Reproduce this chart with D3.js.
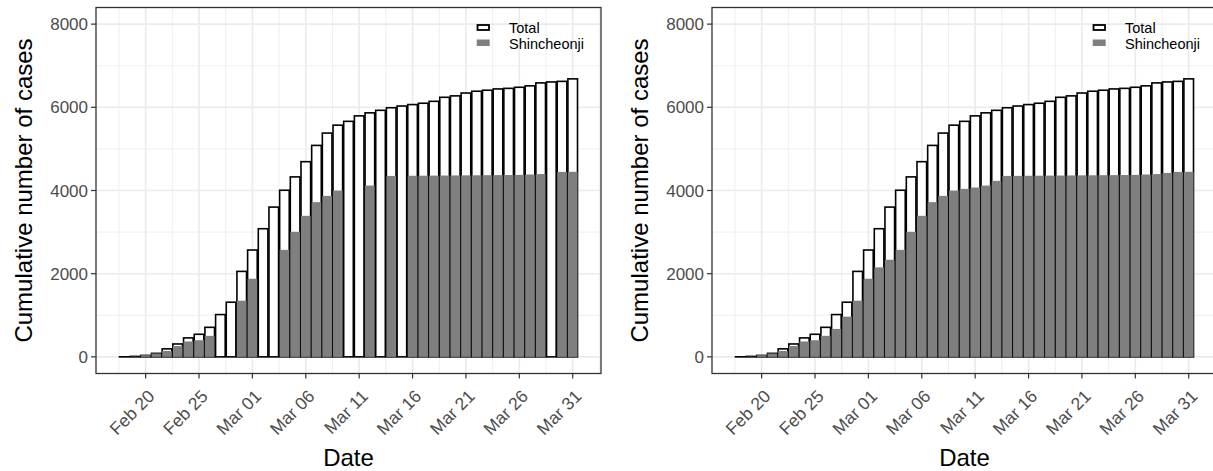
<!DOCTYPE html>
<html>
<head>
<meta charset="utf-8">
<script src="https://cdn.jsdelivr.net/npm/d3@7"></script>
<style>
  body { margin: 0; background: #fff; }
  svg { display: block; font-family: "Liberation Sans", Arial, sans-serif; }
</style>
</head>
<body>
<div id="chart"></div>
<script>
// dates of the bars (Feb 18 -> Mar 31, 2020)
const dates = [
  "2020-02-18","2020-02-19","2020-02-20","2020-02-21","2020-02-22","2020-02-23","2020-02-24",
  "2020-02-25","2020-02-26","2020-02-27","2020-02-28","2020-02-29","2020-03-01","2020-03-02",
  "2020-03-03","2020-03-04","2020-03-05","2020-03-06","2020-03-07","2020-03-08","2020-03-09",
  "2020-03-10","2020-03-11","2020-03-12","2020-03-13","2020-03-14","2020-03-15","2020-03-16",
  "2020-03-17","2020-03-18","2020-03-19","2020-03-20","2020-03-21","2020-03-22","2020-03-23",
  "2020-03-24","2020-03-25","2020-03-26","2020-03-27","2020-03-28","2020-03-29","2020-03-30",
  "2020-03-31"
];

const totalCases = [
  1, 11, 35, 84, 193, 310, 456, 543, 710, 1017, 1314, 2055, 2569, 3081,
  3601, 4006, 4327, 4693, 5084, 5381, 5571, 5663, 5794, 5867, 5928, 5990, 6031, 6066,
  6098, 6144, 6241, 6275, 6344, 6387, 6411, 6442, 6456, 6482, 6516, 6587, 6610, 6624,
  6684
];

// left panel: reported Shincheonji counts, null = not reported that day
const shincheonjiReported = [
  0, 5, 40, 80, 140, 260, 370, 400, 505, null, null, 1351, 1879, null,
  null, 2572, 3008, 3391, 3720, 3871, 3999, null, null, 4119, null, 4350, null, 4354,
  4356, 4358, 4360, 4362, 4364, 4366, 4368, 4370, 4372, 4375, 4385, 4395, null, 4447,
  4450
];

// right panel: gaps filled in
const shincheonjiFilled = [
  0, 5, 40, 80, 140, 260, 370, 400, 505, 672, 967, 1351, 1879, 2151,
  2335, 2572, 3008, 3391, 3720, 3871, 3999, 4039, 4071, 4119, 4231, 4350, 4352, 4354,
  4356, 4358, 4360, 4362, 4364, 4366, 4368, 4370, 4372, 4375, 4385, 4395, 4423, 4447,
  4450
];

const tickDates = ["2020-02-20","2020-02-25","2020-03-01","2020-03-06","2020-03-11",
                   "2020-03-16","2020-03-21","2020-03-26","2020-03-31"];
const tickLabels = ["Feb 20","Feb 25","Mar 01","Mar 06","Mar 11","Mar 16","Mar 21","Mar 26","Mar 31"];
const yTicks = [0, 2000, 4000, 6000, 8000];
const yMinor = [1000, 3000, 5000, 7000];
const seriesNames = ["Total", "Shincheonji"];

const W = 1213, H = 471;
const DAY = 864e5;
const parse = d3.utcParse("%Y-%m-%d");

const svg = d3.select("#chart").append("svg")
    .attr("width", W)
    .attr("height", H);

function drawPanel(offsetX, shinValues, id) {
    const left = 96 + offsetX, right = 601 + offsetX, top = 7.5, bottom = 373.5;

    const first = +parse(dates[0]) - DAY / 2, last = +parse(dates[dates.length - 1]) + DAY / 2;
    const pad = (last - first) * 0.05;
    const x = d3.scaleUtc().domain([first - pad, last + pad]).range([left, right]);
    const y = d3.scaleLinear().domain([-400, 8400]).range([bottom, top]);

    const rows = dates.map((d, i) => ({ date: parse(d), total: totalCases[i], shin: shinValues[i] }));

    svg.append("clipPath").attr("id", id)
        .append("rect").attr("x", left).attr("y", top).attr("width", right - left).attr("height", bottom - top);

    const g = svg.append("g").attr("clip-path", `url(#${id})`);

    g.append("rect").attr("x", left).attr("y", top).attr("width", right - left).attr("height", bottom - top)
        .attr("fill", "#fff");

    // minor grid
    const xMinor = [];
    for (let t = +parse(tickDates[0]) - 2.5 * DAY; t <= x.domain()[1]; t += 5 * DAY) xMinor.push(t);
    g.selectAll(".vminor").data(xMinor).enter().append("line")
        .attr("x1", d => x(d)).attr("x2", d => x(d)).attr("y1", top).attr("y2", bottom)
        .attr("stroke", "#ebebeb").attr("stroke-width", 0.8);
    g.selectAll(".hminor").data(yMinor).enter().append("line")
        .attr("x1", left).attr("x2", right).attr("y1", d => y(d)).attr("y2", d => y(d))
        .attr("stroke", "#ebebeb").attr("stroke-width", 0.8);

    // major grid
    g.selectAll(".vmajor").data(tickDates).enter().append("line")
        .attr("x1", d => x(parse(d))).attr("x2", d => x(parse(d))).attr("y1", top).attr("y2", bottom)
        .attr("stroke", "#ebebeb").attr("stroke-width", 1.6);
    g.selectAll(".hmajor").data(yTicks).enter().append("line")
        .attr("x1", left).attr("x2", right).attr("y1", d => y(d)).attr("y2", d => y(d))
        .attr("stroke", "#ebebeb").attr("stroke-width", 1.6);

    // bars
    const half = 0.45 * DAY;
    g.selectAll(".total").data(rows).enter().append("rect")
        .attr("x", d => x(+d.date - half))
        .attr("width", d => x(+d.date + half) - x(+d.date - half))
        .attr("y", d => y(d.total))
        .attr("height", d => y(0) - y(d.total))
        .attr("fill", "#fff").attr("stroke", "#000").attr("stroke-width", 1.6);

    g.selectAll(".shin").data(rows.filter(d => d.shin != null)).enter().append("rect")
        .attr("x", d => x(+d.date - half))
        .attr("width", d => x(+d.date + half) - x(+d.date - half))
        .attr("y", d => y(d.shin))
        .attr("height", d => y(0) - y(d.shin))
        .attr("fill", "#7f7f7f");

    // legend
    const lg = g.append("g");
    lg.append("rect").attr("x", left + 381.5).attr("y", 25).attr("width", 11.5).attr("height", 5)
        .attr("fill", "#fff").attr("stroke", "#000").attr("stroke-width", 1.8);
    lg.append("rect").attr("x", left + 380.7).attr("y", 39.5).attr("width", 13).attr("height", 6.5)
        .attr("fill", "#7f7f7f");
    lg.selectAll("text").data(seriesNames).enter().append("text")
        .attr("x", left + 413)
        .attr("y", (d, i) => 28 + i * 15.5)
        .attr("dy", "0.35em")
        .attr("font-size", 14.5)
        .attr("fill", "#000")
        .text(d => d);

    // panel border
    svg.append("rect").attr("x", left).attr("y", top).attr("width", right - left).attr("height", bottom - top)
        .attr("fill", "none").attr("stroke", "#333").attr("stroke-width", 1.3);

    // y axis
    const ya = svg.append("g");
    ya.selectAll("line").data(yTicks).enter().append("line")
        .attr("x1", left - 5).attr("x2", left).attr("y1", d => y(d)).attr("y2", d => y(d))
        .attr("stroke", "#333").attr("stroke-width", 1.2);
    ya.selectAll("text").data(yTicks).enter().append("text")
        .attr("x", left - 8).attr("y", d => y(d)).attr("dy", "0.36em")
        .attr("text-anchor", "end").attr("font-size", 17).attr("fill", "#4d4d4d")
        .text(d => d);

    // x axis
    const xa = svg.append("g");
    xa.selectAll("line").data(tickDates).enter().append("line")
        .attr("x1", d => x(parse(d))).attr("x2", d => x(parse(d))).attr("y1", bottom).attr("y2", bottom + 5)
        .attr("stroke", "#333").attr("stroke-width", 1.2);
    xa.selectAll("text").data(tickDates).enter().append("text")
        .attr("transform", d => `translate(${x(parse(d)) + 1},${bottom + 15}) rotate(-45)`)
        .attr("dy", "0.72em")
        .attr("text-anchor", "end").attr("font-size", 17.5).attr("fill", "#4d4d4d")
        .text((d, i) => tickLabels[i]);

    // titles
    svg.append("text")
        .attr("x", (left + right) / 2).attr("y", 466)
        .attr("text-anchor", "middle").attr("font-size", 24).attr("fill", "#000")
        .text("Date");
    svg.append("text")
        .attr("transform", `translate(${offsetX + 32},${(top + bottom) / 2}) rotate(-90)`)
        .attr("text-anchor", "middle").attr("font-size", 24).attr("fill", "#000")
        .text("Cumulative number of cases");
}

drawPanel(0, shincheonjiReported, "clipL");
drawPanel(616, shincheonjiFilled, "clipR");
</script>
</body>
</html>
